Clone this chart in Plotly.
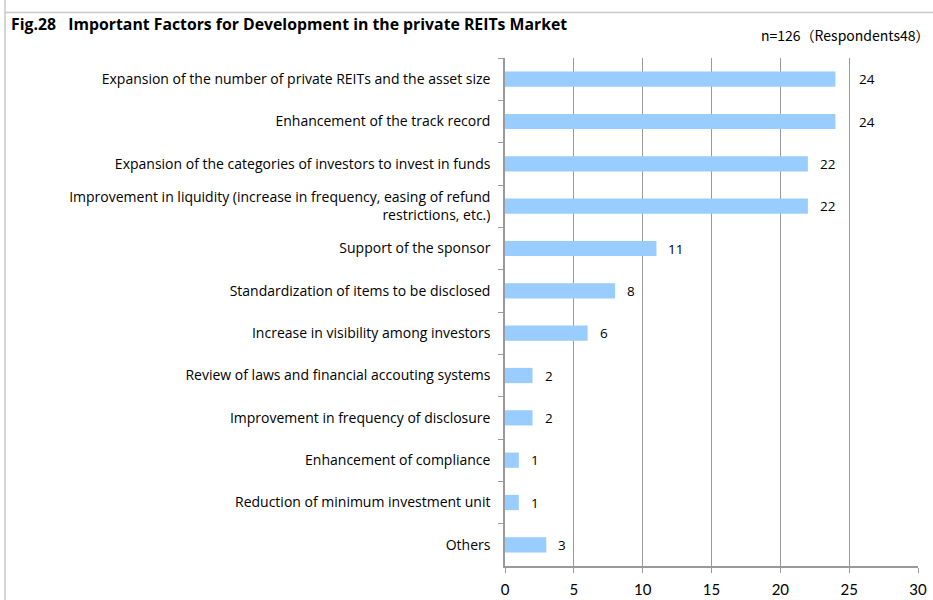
import plotly.graph_objects as go

# Survey results: important factors for developing the private REIT market
factors = [
    "Expansion of the number of private REITs and the asset size",
    "Enhancement of the track record",
    "Expansion of the categories of investors to invest in funds",
    "Improvement in liquidity (increase in frequency, easing of refund<br>restrictions, etc.)",
    "Support of the sponsor",
    "Standardization of items to be disclosed",
    "Increase in visibility among investors",
    "Review of laws and financial accouting systems",
    "Improvement in frequency of disclosure",
    "Enhancement of compliance",
    "Reduction of minimum investment unit",
    "Others",
]
counts = [24, 24, 22, 22, 11, 8, 6, 2, 2, 1, 1, 3]
x_ticks = [0, 5, 10, 15, 20, 25, 30]

W, H = 933, 600
M_L, M_R, M_T, M_B = 505, 15, 58, 34
PW, PH = W - M_L - M_R, H - M_T - M_B
FONT = "'Open Sans', sans-serif"
AXFONT = "Lato, sans-serif"
GRID = "#9a9a9a"

fig = go.Figure(
    go.Bar(
        x=counts,
        y=factors,
        orientation="h",
        marker=dict(color="#99CCFF", line=dict(width=0)),
        width=0.36,
        hoverinfo="x+y",
    )
)

# value labels to the right of each bar; nudge past a gridline when too close
px_per_unit = PW / 30.0
for f, v in zip(factors, counts):
    next_grid = (v // 5 + 1) * 5
    if next_grid - v <= 1.3:
        shift = (next_grid - v) * px_per_unit + 8
    else:
        shift = 10
    fig.add_annotation(
        x=v, y=f, text=str(v), showarrow=False,
        xanchor="left", yanchor="middle", xshift=shift,
        font=dict(family=FONT, size=13.5, color="#000000"),
    )

# title and sample-size note
fig.add_annotation(
    xref="paper", yref="paper",
    x=-(M_L - 9) / PW, y=1 + (M_T - 24) / PH,
    xanchor="left", yanchor="middle", showarrow=False,
    text="<b>Fig.28\u00a0\u00a0\u00a0Important Factors for Development in the private REITs Market</b>",
    font=dict(family=FONT, size=15.8, color="#000000"),
)
fig.add_annotation(
    xref="paper", yref="paper",
    x=1 + (M_R - 1) / PW, y=1 + (M_T - 35) / PH,
    xanchor="right", yanchor="middle", showarrow=False,
    text="n=126（Respondents48）",
    font=dict(family="'Noto Sans CJK JP', sans-serif", size=14, color="#000000"),
)

# outer cell border lines (left and top)
fig.add_shape(type="line", xref="paper", yref="paper",
              x0=-(M_L - 5) / PW, x1=-(M_L - 5) / PW,
              y0=-M_B / PH - 0.1, y1=1 + M_T / PH + 0.1,
              line=dict(color="#c8c8c8", width=1.5))
fig.add_shape(type="line", xref="paper", yref="paper",
              x0=-(M_L - 5) / PW, x1=1 + M_R / PW + 0.1,
              y0=1 + (M_T - 12.5) / PH, y1=1 + (M_T - 12.5) / PH,
              line=dict(color="#c8c8c8", width=1.5))

fig.update_xaxes(
    range=[0, 30], tickvals=x_ticks, ticktext=[str(t) for t in x_ticks],
    showgrid=True, gridcolor=GRID, gridwidth=1.3,
    showline=True, linecolor=GRID, linewidth=1.5,
    ticks="outside", ticklen=5, tickcolor=GRID, tickwidth=1.3,
    ticklabelstandoff=4,
    tickfont=dict(family=AXFONT, size=15, color="#000000"),
    zeroline=False, fixedrange=True,
)
fig.update_yaxes(
    autorange="reversed", type="category",
    showline=True, linecolor=GRID, linewidth=1.5,
    ticks="outside", ticklen=5, tickcolor=GRID, tickwidth=1.3,
    tickson="boundaries",
    ticklabelstandoff=10,
    tickfont=dict(family=FONT, size=14, color="#000000"),
    showgrid=False, fixedrange=True,
)
fig.update_layout(
    width=W, height=H,
    margin=dict(l=M_L, r=M_R, t=M_T, b=M_B, autoexpand=False),
    paper_bgcolor="white", plot_bgcolor="white",
    showlegend=False,
    font=dict(family=FONT),
)

fig.write_html("out.html")
